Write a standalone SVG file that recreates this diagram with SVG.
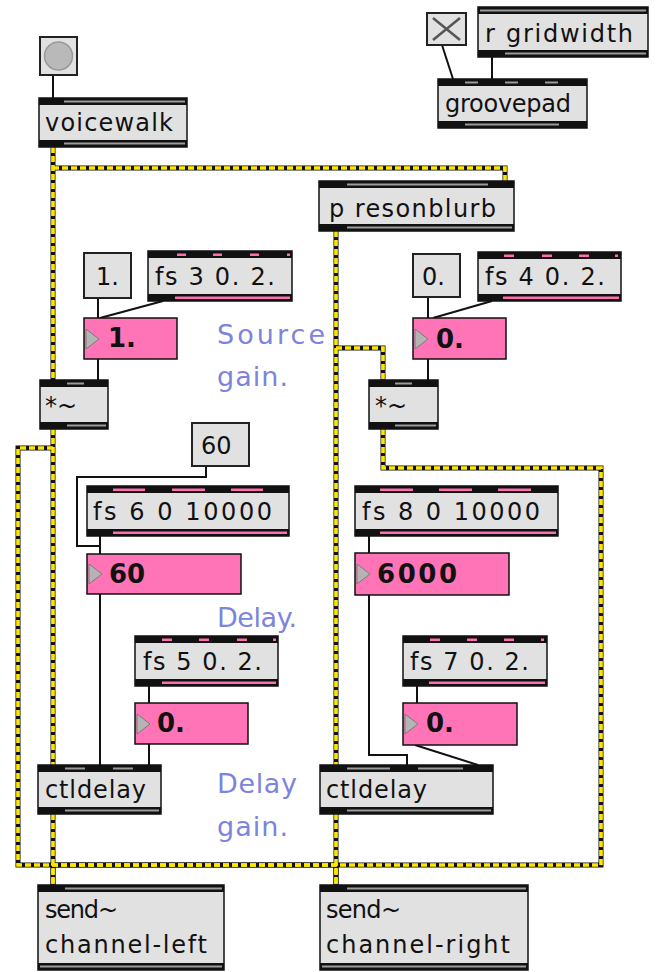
<svg xmlns="http://www.w3.org/2000/svg" width="656" height="972" viewBox="0 0 656 972">
<style>
.obj{fill:#e1e1e1;stroke:#111;stroke-width:1.5}
.msg{fill:#e1e1e1;stroke:#222;stroke-width:2}
.band{fill:#111}
.stripe{fill:#9c9c9c}
.pk{fill:#ff6fb0}
.num{fill:#ff74b6;stroke:#111;stroke-width:1.5}
.tri{fill:#b4b4b4;stroke:#7a7a7a;stroke-width:1}
.t{font-family:"DejaVu Sans",sans-serif;font-size:24px;fill:#111}
.tb{font-family:"DejaVu Sans",sans-serif;font-size:26px;font-weight:bold;fill:#111}
.lbl{font-family:"DejaVu Sans",sans-serif;font-size:27px;fill:#7c84de}
.wire{fill:none;stroke:#111;stroke-width:2}
.sigbase{fill:none;stroke:#111;stroke-width:5}
.sigdash{fill:none;stroke:#ffe600;stroke-width:3.6;stroke-dasharray:6 3}
</style>

<!-- patch cords -->
<g id="connectors">
  <g id="signal-cords">
    <path class="sigbase" d="M53,147 V380"/>
    <path class="sigbase" d="M53,168 H505 V181"/>
    <path class="sigbase" d="M336,231 V765"/>
    <path class="sigbase" d="M336,348 H383 V380"/>
    <path class="sigbase" d="M53,429 V765"/>
    <path class="sigbase" d="M53,448 H18 V865 H336 V885"/>
    <path class="sigbase" d="M383,429 V468 H601 V865 H53 V885"/>
    <path class="sigbase" d="M53,814 V885"/>
    <path class="sigbase" d="M336,814 V885"/>
    <path class="sigdash" d="M53,147 V380"/>
    <path class="sigdash" d="M53,168 H505 V181"/>
    <path class="sigdash" d="M336,231 V765"/>
    <path class="sigdash" d="M336,348 H383 V380"/>
    <path class="sigdash" d="M53,429 V765"/>
    <path class="sigdash" d="M53,448 H18 V865 H336 V885"/>
    <path class="sigdash" d="M383,429 V468 H601 V865 H53 V885"/>
    <path class="sigdash" d="M53,814 V885"/>
    <path class="sigdash" d="M336,814 V885"/>
  </g>
  <g id="control-cords">
    <path class="wire" d="M53,75 V98"/>
    <path class="wire" d="M442,45 L453,79"/>
    <path class="wire" d="M492,57 V79"/>
    <path class="wire" d="M98,298 V318"/>
    <path class="wire" d="M163,301 L100,318"/>
    <path class="wire" d="M98,359 V380"/>
    <path class="wire" d="M428,297 V318"/>
    <path class="wire" d="M492,301 L433,318"/>
    <path class="wire" d="M428,359 V380"/>
    <path class="wire" d="M206,466 V477 H77 V546 H100"/>
    <path class="wire" d="M100,536 V554"/>
    <path class="wire" d="M100,594 V765"/>
    <path class="wire" d="M149,686 V703"/>
    <path class="wire" d="M149,744 V765"/>
    <path class="wire" d="M369,536 V553"/>
    <path class="wire" d="M369,595 V755 H407 V765"/>
    <path class="wire" d="M417,686 V703"/>
    <path class="wire" d="M415,745 L478,765"/>
  </g>
</g>

<!-- bang -->
<g id="bang">
  <rect class="msg" x="40" y="37" width="37" height="38"/>
  <circle cx="58.5" cy="56" r="14" fill="#b9b9b9" stroke="#9a9a9a" stroke-width="1.5"/>
</g>

<!-- voicewalk -->
<g id="voicewalk">
  <rect class="obj" x="39" y="98" width="148" height="49"/>
  <rect class="band" x="39" y="98" width="148" height="7"/>
  <rect class="stripe" x="64" y="100.5" width="121" height="2"/>
  <rect class="band" x="39" y="140" width="148" height="7"/>
  <rect class="stripe" x="64" y="142.5" width="121" height="2"/>
  <text class="t" x="45" y="131" textLength="128">voicewalk</text>
</g>

<!-- toggle -->
<g id="toggle">
  <rect class="msg" x="427" y="13" width="39" height="32"/>
  <path d="M433,18 L460,40 M460,18 L433,40" stroke="#555" stroke-width="2.5" fill="none"/>
</g>

<!-- r gridwidth -->
<g id="r-gridwidth">
  <rect class="obj" x="478" y="7" width="170" height="50"/>
  <rect class="band" x="478" y="7" width="170" height="7"/>
  <rect class="stripe" x="480" y="9.5" width="166" height="2"/>
  <rect class="band" x="478" y="50" width="170" height="7"/>
  <rect class="stripe" x="505" y="52.5" width="141" height="2"/>
  <text class="t" x="485" y="42" textLength="148">r gridwidth</text>
</g>

<!-- groovepad -->
<g id="groovepad">
  <rect class="obj" x="438" y="79" width="149" height="49"/>
  <rect class="band" x="438" y="79" width="149" height="7"/>
  <rect class="stripe" x="465" y="81.5" width="13" height="2"/>
  <rect class="stripe" x="505" y="81.5" width="13" height="2"/>
  <rect class="stripe" x="545" y="81.5" width="13" height="2"/>
  <rect class="band" x="438" y="121" width="149" height="7"/>
  <rect class="stripe" x="465" y="123.5" width="94" height="2"/>
  <text class="t" x="445" y="112" textLength="126">groovepad</text>
</g>

<!-- p resonblurb -->
<g id="p-resonblurb">
  <rect class="obj" x="319" y="181" width="195" height="50"/>
  <rect class="band" x="319" y="181" width="195" height="7"/>
  <rect class="stripe" x="347" y="183.5" width="141" height="2"/>
  <rect class="band" x="319" y="224" width="195" height="7"/>
  <rect class="stripe" x="347" y="226.5" width="165" height="2"/>
  <text class="t" x="329" y="217" textLength="167">p resonblurb</text>
</g>

<!-- left source gain -->
<g id="msg-1">
  <rect class="msg" x="84" y="253" width="47" height="45"/>
  <text class="t" x="96" y="285">1.</text>
</g>
<g id="fs-3">
  <rect class="obj" x="148" y="251" width="144" height="50"/>
  <rect class="band" x="148" y="251" width="144" height="7"/>
  <rect class="pk" x="177" y="253.5" width="9" height="2.5"/>
  <rect class="pk" x="213" y="253.5" width="9" height="2.5"/>
  <rect class="pk" x="250" y="253.5" width="9" height="2.5"/>
  <rect class="pk" x="287" y="253.5" width="3" height="2.5"/>
  <rect class="band" x="148" y="294" width="144" height="7"/>
  <rect class="pk" x="175" y="296.5" width="115" height="2.5"/>
  <text class="t" x="155" y="285" textLength="120">fs 3 0. 2.</text>
</g>
<g id="num-src-l">
  <rect class="num" x="84" y="318" width="93" height="41"/>
  <path class="tri" d="M86,329 L99,339 L86,349 Z"/>
  <text class="tb" x="108" y="347">1.</text>
</g>
<g id="times-l">
  <rect class="obj" x="40" y="380" width="68" height="49"/>
  <rect class="band" x="40" y="380" width="68" height="7"/>
  <rect class="stripe" x="67" y="382.5" width="17" height="2"/>
  <rect class="band" x="40" y="422" width="68" height="7"/>
  <rect class="stripe" x="67" y="424.5" width="39" height="2"/>
  <text class="t" x="45" y="414">*~</text>
</g>

<!-- right source gain -->
<g id="msg-0">
  <rect class="msg" x="413" y="254" width="47" height="43"/>
  <text class="t" x="422" y="285">0.</text>
</g>
<g id="fs-4">
  <rect class="obj" x="478" y="252" width="143" height="49"/>
  <rect class="band" x="478" y="252" width="143" height="7"/>
  <rect class="pk" x="504" y="254.5" width="10" height="2.5"/>
  <rect class="pk" x="542" y="254.5" width="10" height="2.5"/>
  <rect class="pk" x="579" y="254.5" width="10" height="2.5"/>
  <rect class="pk" x="615" y="254.5" width="3" height="2.5"/>
  <rect class="band" x="478" y="294" width="143" height="7"/>
  <rect class="pk" x="503" y="296.5" width="116" height="2.5"/>
  <text class="t" x="485" y="285" textLength="120">fs 4 0. 2.</text>
</g>
<g id="num-src-r">
  <rect class="num" x="413" y="318" width="93" height="41"/>
  <path class="tri" d="M415,329 L428,339 L415,349 Z"/>
  <text class="tb" x="436" y="348">0.</text>
</g>
<g id="times-r">
  <rect class="obj" x="369" y="380" width="69" height="49"/>
  <rect class="band" x="369" y="380" width="69" height="7"/>
  <rect class="stripe" x="395" y="382.5" width="17" height="2"/>
  <rect class="band" x="369" y="422" width="69" height="7"/>
  <rect class="stripe" x="395" y="424.5" width="41" height="2"/>
  <text class="t" x="375" y="414">*~</text>
</g>

<!-- left delay time -->
<g id="msg-60">
  <rect class="msg" x="192" y="423" width="57" height="43"/>
  <text class="t" x="201" y="454">60</text>
</g>
<g id="fs-6">
  <rect class="obj" x="87" y="486" width="202" height="50"/>
  <rect class="band" x="87" y="486" width="202" height="7"/>
  <rect class="pk" x="113" y="488.5" width="32" height="2.5"/>
  <rect class="pk" x="172" y="488.5" width="33" height="2.5"/>
  <rect class="pk" x="231" y="488.5" width="32" height="2.5"/>
  <rect class="band" x="87" y="529" width="202" height="7"/>
  <rect class="pk" x="113" y="531.5" width="174" height="2.5"/>
  <text class="t" x="93" y="520" textLength="179">fs 6 0 10000</text>
</g>
<g id="num-delay-l">
  <rect class="num" x="87" y="554" width="154" height="40"/>
  <path class="tri" d="M89,564 L102,574 L89,584 Z"/>
  <text class="tb" x="109" y="583">60</text>
</g>

<!-- left delay gain -->
<g id="fs-5">
  <rect class="obj" x="135" y="636" width="143" height="50"/>
  <rect class="band" x="135" y="636" width="143" height="7"/>
  <rect class="pk" x="162" y="638.5" width="10" height="2.5"/>
  <rect class="pk" x="199" y="638.5" width="10" height="2.5"/>
  <rect class="pk" x="237" y="638.5" width="10" height="2.5"/>
  <rect class="pk" x="273" y="638.5" width="3" height="2.5"/>
  <rect class="band" x="135" y="679" width="143" height="7"/>
  <rect class="pk" x="162" y="681.5" width="114" height="2.5"/>
  <text class="t" x="143" y="670" textLength="119">fs 5 0. 2.</text>
</g>
<g id="num-gain-l">
  <rect class="num" x="135" y="703" width="113" height="41"/>
  <path class="tri" d="M137,714 L150,724 L137,734 Z"/>
  <text class="tb" x="157" y="732">0.</text>
</g>
<g id="ctldelay-l">
  <rect class="obj" x="38" y="765" width="123" height="49"/>
  <rect class="band" x="38" y="765" width="123" height="7"/>
  <rect class="stripe" x="65" y="767.5" width="20" height="2"/>
  <rect class="stripe" x="113" y="767.5" width="20" height="2"/>
  <rect class="band" x="38" y="807" width="123" height="7"/>
  <rect class="stripe" x="65" y="809.5" width="94" height="2"/>
  <text class="t" x="45" y="798" textLength="101">ctldelay</text>
</g>
<g id="send-left">
  <rect class="obj" x="38" y="885" width="186" height="85"/>
  <rect class="band" x="38" y="885" width="186" height="7"/>
  <rect class="stripe" x="65" y="887.5" width="157" height="2"/>
  <rect class="band" x="38" y="963" width="186" height="7"/>
  <rect class="stripe" x="40" y="965.5" width="182" height="2"/>
  <text class="t" x="45" y="918" textLength="73">send~</text>
  <text class="t" x="45" y="953" textLength="162">channel-left</text>
</g>

<!-- right delay time -->
<g id="fs-8">
  <rect class="obj" x="355" y="486" width="203" height="50"/>
  <rect class="band" x="355" y="486" width="203" height="7"/>
  <rect class="pk" x="380" y="488.5" width="33" height="2.5"/>
  <rect class="pk" x="439" y="488.5" width="33" height="2.5"/>
  <rect class="pk" x="498" y="488.5" width="33" height="2.5"/>
  <rect class="band" x="355" y="529" width="203" height="7"/>
  <rect class="pk" x="380" y="531.5" width="176" height="2.5"/>
  <text class="t" x="362" y="520" textLength="178">fs 8 0 10000</text>
</g>
<g id="num-delay-r">
  <rect class="num" x="355" y="553" width="154" height="42"/>
  <path class="tri" d="M357,564 L370,574 L357,584 Z"/>
  <text class="tb" x="377" y="583" textLength="80">6000</text>
</g>

<!-- right delay gain -->
<g id="fs-7">
  <rect class="obj" x="403" y="636" width="144" height="50"/>
  <rect class="band" x="403" y="636" width="144" height="7"/>
  <rect class="pk" x="430" y="638.5" width="10" height="2.5"/>
  <rect class="pk" x="467" y="638.5" width="10" height="2.5"/>
  <rect class="pk" x="504" y="638.5" width="10" height="2.5"/>
  <rect class="pk" x="541" y="638.5" width="3" height="2.5"/>
  <rect class="band" x="403" y="679" width="144" height="7"/>
  <rect class="pk" x="429" y="681.5" width="116" height="2.5"/>
  <text class="t" x="410" y="670" textLength="119">fs 7 0. 2.</text>
</g>
<g id="num-gain-r">
  <rect class="num" x="403" y="703" width="114" height="42"/>
  <path class="tri" d="M405,714 L418,724 L405,734 Z"/>
  <text class="tb" x="426" y="732">0.</text>
</g>
<g id="ctldelay-r">
  <rect class="obj" x="320" y="765" width="173" height="49"/>
  <rect class="band" x="320" y="765" width="173" height="7"/>
  <rect class="stripe" x="347" y="767.5" width="43" height="2"/>
  <rect class="stripe" x="418" y="767.5" width="45" height="2"/>
  <rect class="band" x="320" y="807" width="173" height="7"/>
  <rect class="stripe" x="347" y="809.5" width="144" height="2"/>
  <text class="t" x="326" y="798" textLength="101">ctldelay</text>
</g>
<g id="send-right">
  <rect class="obj" x="320" y="885" width="208" height="85"/>
  <rect class="band" x="320" y="885" width="208" height="7"/>
  <rect class="stripe" x="347" y="887.5" width="179" height="2"/>
  <rect class="band" x="320" y="963" width="208" height="7"/>
  <rect class="stripe" x="322" y="965.5" width="204" height="2"/>
  <text class="t" x="326" y="918" textLength="75">send~</text>
  <text class="t" x="326" y="953" textLength="184">channel-right</text>
</g>

<!-- comments -->
<g id="comments">
  <text class="lbl" x="217" y="344" textLength="108">Source</text>
  <text class="lbl" x="217" y="386" textLength="71">gain.</text>
  <text class="lbl" x="217" y="627" textLength="80">Delay.</text>
  <text class="lbl" x="217" y="793" textLength="80">Delay</text>
  <text class="lbl" x="217" y="836" textLength="71">gain.</text>
</g>
</svg>
